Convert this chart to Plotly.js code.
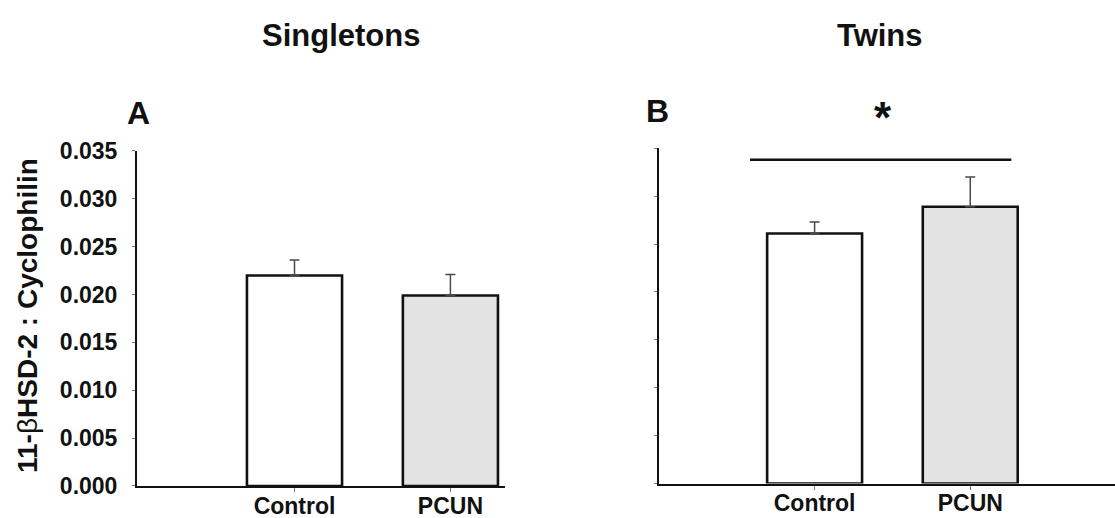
<!DOCTYPE html>
<html>
<head>
<meta charset="utf-8">
<script src="https://cdn.plot.ly/plotly-3.0.1.min.js"></script>
<style>
  html, body { margin: 0; padding: 0; background: #fff; }
  #chart { width: 1115px; height: 518px; }
</style>
</head>
<body>
<div id="chart"></div>
<script>
// 11-βHSD-2 mRNA relative to cyclophilin, control vs PCUN, singletons and twins
const groups = ["Control", "PCUN"];
const singletonMeans = [0.0220, 0.0199];
const singletonSE = [0.0016, 0.0022];
const twinMeans = [0.0261, 0.0289];
const twinSE = [0.0012, 0.0031];
const barFills = ["#ffffff", "#e3e3e3"];
const yTicks = [0, 0.005, 0.010, 0.015, 0.020, 0.025, 0.030, 0.035];
const yTickText = ["0.000", "0.005", "0.010", "0.015", "0.020", "0.025", "0.030", "0.035"];
const panelTitles = ["Singletons", "Twins"];
const panelLetters = ["A", "B"];
const yTitle = "11-<span style='font-weight:normal'>β</span>HSD-2 : Cyclophilin";
// significance bracket over the twins panel (group positions and height)
const sigSpan = [-0.415, 1.264];
const sigLevel = 0.0338;
const sigMark = "*";

const FONT = "Liberation Sans, Arial, Helvetica, sans-serif";
const INK = "#111111";

function barTrace(means, se, xa, ya) {
  return {
    type: "bar",
    x: groups,
    y: means,
    xaxis: xa,
    yaxis: ya,
    width: 0.61,
    marker: { color: barFills, line: { color: INK, width: 2.6 } },
    error_y: {
      type: "data",
      symmetric: false,
      array: se,
      arrayminus: se.map(() => 0),
      color: "#4a4a4a",
      thickness: 1.5,
      width: 5
    },
    hoverinfo: "skip",
    showlegend: false
  };
}

const data = [
  barTrace(singletonMeans, singletonSE, "x", "y"),
  barTrace(twinMeans, twinSE, "x2", "y2")
];

const xCommon = {
  type: "category",
  showline: true, linewidth: 2, linecolor: INK,
  showgrid: false, zeroline: false,
  ticks: "outside", ticklen: 4, tickwidth: 1, tickcolor: "#777",
  tickfont: { family: FONT, size: 23, color: INK, weight: "bold" },
  ticklabelstandoff: -6,
  fixedrange: true
};
const yCommon = {
  range: [0, 0.035],
  showline: true, linewidth: 2, linecolor: INK,
  showgrid: false, zeroline: false,
  tickvals: yTicks, ticktext: yTickText,
  ticks: "outside", ticklen: 3, tickwidth: 1, tickcolor: "#777",
  tickfont: { family: FONT, size: 23, color: INK, weight: "bold" },
  ticklabelstandoff: 10,
  fixedrange: true
};

const layout = {
  width: 1115, height: 518,
  margin: { l: 0, r: 0, t: 0, b: 0 },
  paper_bgcolor: "#fff", plot_bgcolor: "rgba(0,0,0,0)",
  bargap: 0,
  xaxis: Object.assign({}, xCommon, { domain: [0.1229, 0.4529], range: [-1.01, 1.35], anchor: "y" }),
  yaxis: Object.assign({}, yCommon, { domain: [0.0618, 0.7085], anchor: "x" }),
  xaxis2: Object.assign({}, xCommon, { domain: [0.5910, 1.0], range: [-1.0, 1.93], anchor: "y2" }),
  yaxis2: Object.assign({}, yCommon, { domain: [0.0666, 0.7137], anchor: "x2", showticklabels: false }),
  shapes: [
    {
      type: "line", xref: "x2", yref: "y2",
      x0: sigSpan[0], x1: sigSpan[1], y0: sigLevel, y1: sigLevel,
      line: { color: INK, width: 2.5 }
    }
  ],
  annotations: [
    { text: panelTitles[0], xref: "paper", yref: "paper", x: 341 / 1115, y: 1 - 36 / 518,
      showarrow: false, xanchor: "center", yanchor: "middle",
      font: { family: FONT, size: 31, color: INK, weight: "bold" } },
    { text: panelTitles[1], xref: "paper", yref: "paper", x: 880 / 1115, y: 1 - 36 / 518,
      showarrow: false, xanchor: "center", yanchor: "middle",
      font: { family: FONT, size: 31, color: INK, weight: "bold" } },
    { text: panelLetters[0], xref: "paper", yref: "paper", x: 138.5 / 1115, y: 1 - 113 / 518,
      showarrow: false, xanchor: "center", yanchor: "middle",
      font: { family: FONT, size: 32, color: INK, weight: "bold" } },
    { text: panelLetters[1], xref: "paper", yref: "paper", x: 657 / 1115, y: 1 - 111 / 518,
      showarrow: false, xanchor: "center", yanchor: "middle",
      font: { family: FONT, size: 32, color: INK, weight: "bold" } },
    { text: sigMark, xref: "paper", yref: "paper", x: 882.5 / 1115, y: 1 - 117 / 518,
      showarrow: false, xanchor: "center", yanchor: "middle",
      font: { family: FONT, size: 44, color: INK, weight: "bold" } },
    { text: yTitle, xref: "paper", yref: "paper", x: 27 / 1115, y: 1 - 316 / 518,
      showarrow: false, xanchor: "center", yanchor: "middle", textangle: -90,
      font: { family: FONT, size: 28, color: INK, weight: "bold" } }
  ]
};

Plotly.newPlot("chart", data, layout, { staticPlot: true, displayModeBar: false });
</script>
</body>
</html>
